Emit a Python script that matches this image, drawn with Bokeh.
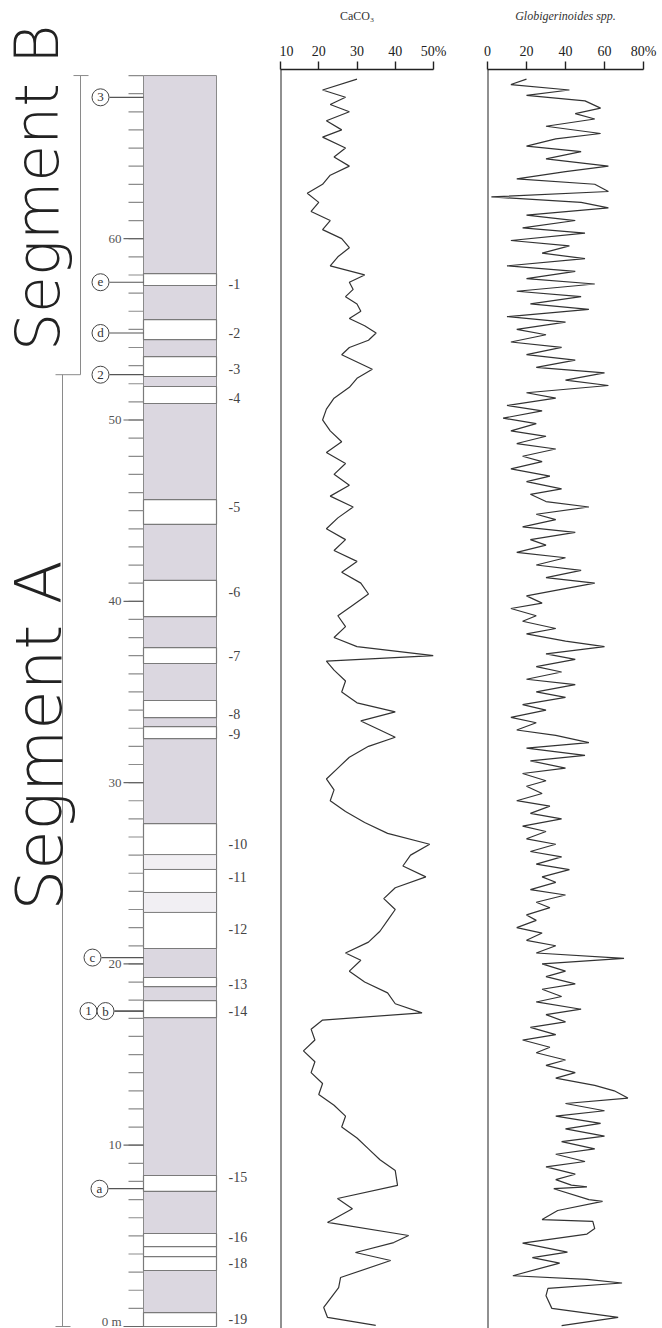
from bokeh.plotting import figure
from bokeh.layouts import row
from bokeh.models import Range1d, Span, FixedTicker
from bokeh.core.properties import value
from bokeh.embed import file_html
from bokeh.resources import INLINE

# ---------------- data ----------------
# depth scale (m)
depth_major = [10, 20, 30, 40, 50, 60]
depth_major_labels = ["10", "20", "30", "40", "50", "60"]
depth_zero_label = ["0 m"]
depth_minor = list(range(0, 70))
column_top = 69.0

# light (white) beds: top / bottom depth (m)
bed_top = [58.08, 55.54, 53.50, 51.85, 45.61, 41.15, 37.45, 34.53, 33.09, 27.74, 19.25, 17.98, 8.33, 5.13, 0.77]
bed_bot = [57.42, 54.44, 52.40, 50.91, 44.24, 39.16, 36.57, 33.59, 32.43, 20.85, 18.75, 17.04, 7.45, 3.09, 0.00]
# faint beds inside the light interval
faint_top = [26.03, 23.94]
faint_bot = [25.21, 22.84]
# extra bed boundaries
extra_bounds = [4.41, 3.86]

# bed labels
bed_labels = ["-1", "-2", "-3", "-4", "-5", "-6", "-7", "-8", "-9", "-10", "-11", "-12", "-13", "-14", "-15", "-16", "-18", "-19"]
bed_label_depth = [57.5, 54.8, 52.8, 51.2, 45.2, 40.5, 36.96, 33.8, 32.7, 26.6, 24.8, 21.95, 18.9, 17.4, 8.23, 4.91, 3.53, 0.44]

# circled markers
circ_labels = ["3", "e", "d", "2", "c", "1", "b", "a"]
circ_depth = [67.8, 57.6, 54.8, 52.5, 20.35, 17.4, 17.4, 7.6]

# segments
seg_names = ["Segment B", "Segment A"]
seg_top = [69.0, 52.5]
seg_bot = [52.5, 0.0]

# CaCO3 (%) vs depth (m)
caco3_depth = [68.8, 68.2, 67.8, 67.4, 67.0, 66.5, 66.0, 65.6, 65.0, 64.5, 64.0, 63.5, 63.0, 62.5, 62.0, 61.5, 61.0, 60.5,
               60.0, 59.5, 59.0, 58.5, 58.0, 57.6, 57.2, 56.8, 56.4, 56.0, 55.6, 55.2, 54.8, 54.4, 54.0, 53.6, 53.2, 52.8,
               52.3, 51.8, 51.2, 50.6, 50.0, 49.4, 48.8, 48.2, 47.6, 47.0, 46.4, 45.8, 45.2, 44.6, 44.0, 43.4, 42.8, 42.2,
               41.6, 41.0, 40.4, 39.8, 39.2, 38.6, 38.0, 37.5, 37.0, 36.7, 36.2, 35.6, 35.0, 34.4, 33.9, 33.4, 32.9, 32.5,
               32.0, 31.4, 30.8, 30.2, 29.6, 29.0, 28.4, 27.8, 27.2, 26.6, 26.0, 25.4, 24.8, 24.2, 23.6, 23.0, 22.4, 21.8,
               21.2, 20.6, 20.2, 19.6, 19.0, 18.4, 17.8, 17.3, 16.9, 16.4, 15.8, 15.2, 14.6, 14.0, 13.4, 12.8, 12.2, 11.6,
               11.0, 10.4, 9.8, 9.2, 8.6, 7.78, 7.06, 6.5, 5.74, 5.02, 4.63, 4.08, 3.64, 2.7, 2.15, 1.05, 0.5, 0.06]
caco3_val = [30, 21, 27, 23, 28, 22, 26, 21, 27, 24, 28, 23, 21, 17, 20, 18, 23, 21,
             26, 28, 25, 23, 32, 28, 29, 27, 30, 31, 28, 32, 35, 33, 28, 26, 30, 34,
             30, 28, 24, 22, 21, 23, 26, 22, 27, 24, 28, 23, 29, 25, 22, 27, 24, 30,
             26, 31, 33, 29, 25, 27, 24, 30, 50, 22, 24, 27, 26, 30, 40, 31, 36, 40,
             33, 28, 25, 22, 24, 23, 27, 32, 38, 49, 44, 42, 48, 40, 37, 40, 38, 36,
             33, 27, 31, 28, 32, 38, 40, 47, 21, 18, 19, 16, 19, 18, 21, 20, 24, 27,
             26, 30, 33, 36, 40, 40.6, 24.9, 28.8, 22.3, 43.5, 39.6, 29.6, 38.8, 25.7, 25.2, 21.3, 22.3, 34.9]

# Globigerinoides spp. (%) vs depth (m)
glob_depth = [68.8, 68.5, 68.2, 67.9, 67.6, 67.2, 66.9, 66.6, 66.2, 65.8, 65.5, 65.1, 64.8, 64.4, 64.0, 63.7, 63.3, 63.0,
              62.6, 62.3, 62.0, 61.7, 61.3, 61.0, 60.6, 60.3, 59.9, 59.6, 59.2, 58.9, 58.5, 58.2, 57.8, 57.5, 57.1, 56.8,
              56.4, 56.1, 55.7, 55.4, 55.0, 54.7, 54.3, 54.0, 53.6, 53.3, 52.9, 52.6, 52.2, 51.9, 51.5, 51.2, 50.8, 50.5,
              50.1, 49.8, 49.4, 49.1, 48.7, 48.4, 48.0, 47.7, 47.3, 46.9, 46.6, 46.2, 45.9, 45.5, 45.2, 44.8, 44.5, 44.1,
              43.8, 43.4, 43.1, 42.7, 42.4, 42.0, 41.7, 41.3, 41.0, 40.6, 40.3, 39.9, 39.6, 39.2, 38.9, 38.5, 38.2, 37.8,
              37.5, 37.1, 36.8, 36.4, 36.1, 35.7, 35.4, 35.0, 34.7, 34.3, 34.0, 33.6, 33.3, 32.9, 32.6, 32.2, 31.9, 31.5,
              31.2, 30.8, 30.5, 30.1, 29.8, 29.4, 29.0, 28.7, 28.3, 28.0, 27.6, 27.3, 26.9, 26.6, 26.2, 25.9, 25.5, 25.2,
              24.8, 24.5, 24.1, 23.8, 23.4, 23.1, 22.7, 22.4, 22.0, 21.7, 21.3, 21.0, 20.6, 20.3, 20.0, 19.6, 19.3, 18.9,
              18.6, 18.2, 17.9, 17.5, 17.2, 16.8, 16.5, 16.1, 15.8, 15.4, 15.1, 14.7, 14.4, 14.0, 13.7, 13.3, 13.0, 12.6,
              12.3, 11.9, 11.6, 11.2, 10.9, 10.5, 10.2, 9.8, 9.5, 9.1, 8.8, 8.4, 8.1, 7.8, 7.7, 7.6, 7.0, 6.9, 6.4, 5.9,
              5.8, 5.4, 5.1, 4.6, 4.1, 3.8, 3.5, 2.8, 2.6, 2.4, 2.1, 1.7, 1.0, 0.5, 0.05]
glob_val = [20, 12, 42, 20, 50, 58, 45, 55, 30, 58, 35, 20, 48, 30, 62, 40, 15, 55,
            62, 2, 48, 62, 20, 45, 18, 50, 12, 42, 28, 50, 10, 45, 20, 55, 15, 48,
            22, 52, 10, 40, 15, 30, 12, 38, 20, 45, 25, 60, 40, 62, 20, 35, 10, 28,
            8, 25, 12, 30, 15, 35, 18, 28, 12, 32, 20, 38, 22, 30, 52, 25, 35, 18,
            45, 22, 30, 15, 40, 25, 48, 30, 55, 35, 20, 28, 12, 25, 18, 35, 20, 40,
            60, 30, 45, 25, 38, 20, 45, 25, 40, 18, 30, 12, 25, 15, 35, 52, 20, 50,
            22, 40, 18, 30, 20, 28, 15, 32, 22, 38, 18, 30, 20, 35, 22, 38, 25, 42,
            28, 35, 22, 40, 25, 32, 20, 25, 15, 28, 20, 35, 25, 70, 28, 40, 30, 45,
            28, 38, 25, 48, 30, 40, 22, 35, 18, 32, 25, 40, 30, 45, 35, 55, 65, 72,
            40, 60, 35, 58, 40, 60, 38, 55, 35, 50, 30, 45, 35, 43, 51, 34, 52, 59, 36, 28,
            54, 55, 51, 18, 41, 23, 37, 13, 51, 69, 31, 30, 33, 67, 38]

caco3_ticks = [10, 20, 30, 40, 50]
glob_ticks = [0, 20, 40, 60, 80]

# ---------------- layout constants ----------------
H = 1328
COL_L, COL_R = 143, 216
GRAY = "#dbd7e0"
SERIF = "Liberation Serif"

# ---------------- lithologic column figure ----------------
p1 = figure(width=279, height=H, x_range=Range1d(0, 279), y_range=Range1d(-0.11, 73.14),
            output_backend="svg", toolbar_location=None, min_border=0,
            x_axis_location=None, y_axis_location=None)
p1.frame_align = False
p1.grid.visible = False
p1.outline_line_color = None

p1.quad(left=COL_L, right=COL_R, top=column_top, bottom=0, fill_color=GRAY,
        line_color="#8a8a8a", line_width=1)
p1.quad(left=COL_L, right=COL_R, top=bed_top, bottom=bed_bot, fill_color="white",
        line_color="#7a7a7a", line_width=1.2)
p1.quad(left=COL_L, right=COL_R, top=faint_top, bottom=faint_bot, fill_color="#f1eff3",
        line_color="#7a7a7a", line_width=1)
p1.segment(x0=COL_L, x1=COL_R, y0=extra_bounds, y1=extra_bounds, line_color="#7a7a7a", line_width=1.2)

# depth ticks
p1.segment(x0=128, x1=COL_L, y0=depth_minor, y1=depth_minor, line_color="#8c8c8c", line_width=1.2)
p1.segment(x0=123, x1=COL_L, y0=depth_major + [0], y1=depth_major + [0], line_color="#666666", line_width=1.2)
p1.text(x=121, y=depth_major, text=depth_major_labels, text_align="right", text_baseline="middle",
        text_font=value(SERIF), text_font_size="13px", text_color="#555555")
p1.text(x=121, y=[0], text=depth_zero_label, text_align="right", text_baseline="middle", y_offset=-5,
        text_font=value(SERIF), text_font_size="13px", text_color="#555555")

# bed labels
p1.text(x=228, y=bed_label_depth, text=bed_labels, text_align="left", text_baseline="middle",
        text_font=value(SERIF), text_font_size="14px", text_color="#444444")

# circled markers
circ_x = [100, 100, 100, 100, 92, 88, 105, 99]
line_x0 = [109, 109, 109, 109, 101, 114, 114, 108]
p1.segment(x0=line_x0, x1=COL_L, y0=circ_depth, y1=circ_depth, line_color="#555555", line_width=1.2)
p1.scatter(x=circ_x, y=circ_depth, size=17, marker="circle", fill_color="white",
           line_color="#444444", line_width=1)
p1.text(x=circ_x, y=circ_depth, text=circ_labels, text_align="center", text_baseline="middle",
        text_font=value(SERIF), text_font_size="13px", text_color="#333333")

# segment brackets
seg_x = [80, 62]
p1.segment(x0=seg_x, x1=seg_x, y0=seg_top, y1=seg_bot, line_color="#8a8a8a", line_width=1)
p1.segment(x0=[73, 55], x1=[88, 80], y0=seg_top, y1=seg_top, line_color="#8a8a8a", line_width=1)
p1.segment(x0=[55], x1=[70], y0=[0], y1=[0], line_color="#8a8a8a", line_width=1)
p1.text(x=[37], y=[62.8], text=seg_names[:1], angle=1.5708, text_align="center",
        text_baseline="middle", text_font=value("DejaVu Sans Light"), text_font_size="60px",
        text_color="#222222")
p1.text(x=[39], y=[32.6], text=seg_names[1:], angle=1.5708, text_align="center",
        text_baseline="middle", text_font=value("DejaVu Sans Light"), text_font_size="64px",
        text_color="#222222")


def curve_fig(width, xr, ticks, overrides, bl, br, label, style):
    p = figure(width=width, height=H, x_range=xr, y_range=Range1d(-0.11, 69.33),
               output_backend="svg", toolbar_location=None,
               x_axis_location="above", y_axis_location=None,
               min_border_left=bl, min_border_right=br, min_border_top=69, min_border_bottom=0)
    p.frame_align = False
    p.grid.visible = False
    p.outline_line_color = None
    ax = p.xaxis[0]
    ax.ticker = FixedTicker(ticks=ticks)
    ax.major_label_overrides = overrides
    ax.major_tick_out = 8
    ax.major_tick_in = 0
    ax.minor_tick_out = 0
    ax.minor_tick_in = 0
    ax.axis_line_width = 1.6
    ax.axis_line_color = "#222222"
    ax.major_tick_line_color = "#222222"
    ax.major_tick_line_width = 1.4
    ax.major_label_text_font = SERIF
    ax.major_label_text_font_size = "14px"
    ax.major_label_text_color = "#222222"
    ax.major_label_standoff = 3
    ax.axis_label = label
    ax.axis_label_text_font = SERIF
    ax.axis_label_text_font_size = "12px"
    ax.axis_label_text_font_style = style
    ax.axis_label_text_color = "#333333"
    ax.axis_label_standoff = 18
    p.add_layout(Span(location=ticks[0], dimension="height", line_color="#222222", line_width=2))
    return p


p2 = curve_fig(191, Range1d(10, 50), caco3_ticks, {50: "50%"}, 1, 37, "CaCO₃", "normal")
p2.line(x=caco3_val, y=caco3_depth, line_color="#333333", line_width=1.2)

p3 = curve_fig(192, Range1d(0, 80), glob_ticks, {80: "80%"}, 17, 19, "Globigerinoides spp.", "italic")
p3.line(x=glob_val, y=glob_depth, line_color="#333333", line_width=1.2)

layout = row(p1, p2, p3)
open("out.html", "w").write(file_html(layout, INLINE))
